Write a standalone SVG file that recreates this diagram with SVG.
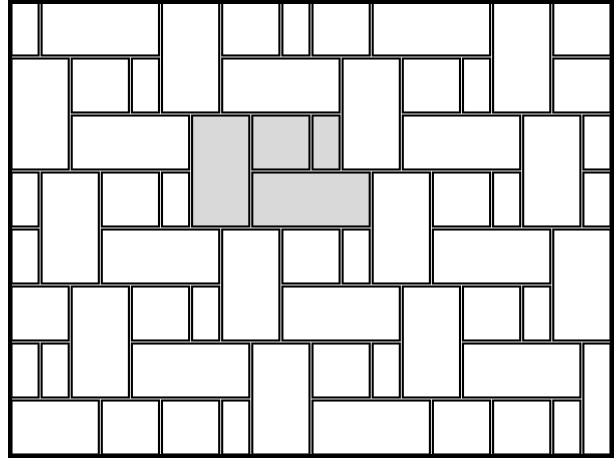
<svg xmlns="http://www.w3.org/2000/svg" width="614" height="458" viewBox="0 0 614 458">
<style>
.t{fill:#fff;stroke:#000;stroke-width:2.1}
.s{fill:#d9d9d9}
</style>
<rect x="0" y="0" width="614" height="458" fill="#fff"/>
<g id="tiles">
<!-- row 0 -->
<rect id="r0a" class="t" x="11.5" y="1.5" width="27.1" height="54"/>
<rect id="r0b" class="t" x="41.6" y="1.5" width="117.4" height="54"/>
<rect id="r0c" class="t" x="162" y="1.5" width="57.2" height="111"/>
<rect id="r0d" class="t" x="222.2" y="1.5" width="57.2" height="54"/>
<rect id="r0e" class="t" x="282.4" y="1.5" width="27.1" height="54"/>
<rect id="r0f" class="t" x="312.5" y="1.5" width="57.2" height="54"/>
<rect id="r0g" class="t" x="372.7" y="1.5" width="117.4" height="54"/>
<rect id="r0h" class="t" x="493.1" y="1.5" width="57.2" height="111"/>
<rect id="r0i" class="t" x="553.3" y="1.5" width="57.2" height="54"/>
<!-- row 1 -->
<rect id="r1a" class="t" x="11.5" y="58.5" width="57.2" height="111"/>
<rect id="r1b" class="t" x="71.7" y="58.5" width="57.2" height="54"/>
<rect id="r1c" class="t" x="131.9" y="58.5" width="27.1" height="54"/>
<rect id="r1d" class="t" x="222.2" y="58.5" width="117.4" height="54"/>
<rect id="r1e" class="t" x="342.6" y="58.5" width="57.2" height="111"/>
<rect id="r1f" class="t" x="402.8" y="58.5" width="57.2" height="54"/>
<rect id="r1g" class="t" x="463" y="58.5" width="27.1" height="54"/>
<rect id="r1h" class="t" x="553.3" y="58.5" width="57.2" height="54"/>
<!-- row 2 -->
<rect id="r2a" class="t" x="71.7" y="115.5" width="117.4" height="54"/>
<rect id="r2b" class="t s" x="192.1" y="115.5" width="57.2" height="111"/>
<rect id="r2c" class="t s" x="252.3" y="115.5" width="57.2" height="54"/>
<rect id="r2d" class="t s" x="312.5" y="115.5" width="27.1" height="54"/>
<rect id="r2e" class="t" x="402.8" y="115.5" width="117.4" height="54"/>
<rect id="r2f" class="t" x="523.2" y="115.5" width="57.2" height="111"/>
<rect id="r2g" class="t" x="583.4" y="115.5" width="27.1" height="54"/>
<!-- row 3 -->
<rect id="r3a" class="t" x="11.5" y="172.5" width="27.1" height="54"/>
<rect id="r3b" class="t" x="41.6" y="172.5" width="57.2" height="111"/>
<rect id="r3c" class="t" x="101.8" y="172.5" width="57.2" height="54"/>
<rect id="r3d" class="t" x="162" y="172.5" width="27.1" height="54"/>
<rect id="r3e" class="t s" x="252.3" y="172.5" width="117.4" height="54"/>
<rect id="r3f" class="t" x="372.7" y="172.5" width="57.2" height="111"/>
<rect id="r3g" class="t" x="432.9" y="172.5" width="57.2" height="54"/>
<rect id="r3h" class="t" x="493.1" y="172.5" width="27.1" height="54"/>
<rect id="r3i" class="t" x="583.4" y="172.5" width="27.1" height="54"/>
<!-- row 4 -->
<rect id="r4a" class="t" x="11.5" y="229.5" width="27.1" height="54"/>
<rect id="r4b" class="t" x="101.8" y="229.5" width="117.4" height="54"/>
<rect id="r4c" class="t" x="222.2" y="229.5" width="57.2" height="111"/>
<rect id="r4d" class="t" x="282.4" y="229.5" width="57.2" height="54"/>
<rect id="r4e" class="t" x="342.6" y="229.5" width="27.1" height="54"/>
<rect id="r4f" class="t" x="432.9" y="229.5" width="117.4" height="54"/>
<rect id="r4g" class="t" x="553.3" y="229.5" width="57.2" height="111"/>
<!-- row 5 -->
<rect id="r5a" class="t" x="11.5" y="286.5" width="57.2" height="54"/>
<rect id="r5b" class="t" x="71.7" y="286.5" width="57.2" height="111"/>
<rect id="r5c" class="t" x="131.9" y="286.5" width="57.2" height="54"/>
<rect id="r5d" class="t" x="192.1" y="286.5" width="27.1" height="54"/>
<rect id="r5e" class="t" x="282.4" y="286.5" width="117.4" height="54"/>
<rect id="r5f" class="t" x="402.8" y="286.5" width="57.2" height="111"/>
<rect id="r5g" class="t" x="463" y="286.5" width="57.2" height="54"/>
<rect id="r5h" class="t" x="523.2" y="286.5" width="27.1" height="54"/>
<!-- row 6 -->
<rect id="r6a" class="t" x="11.5" y="343.5" width="27.1" height="54"/>
<rect id="r6b" class="t" x="41.6" y="343.5" width="27.1" height="54"/>
<rect id="r6c" class="t" x="131.9" y="343.5" width="117.4" height="54"/>
<rect id="r6d" class="t" x="252.3" y="343.5" width="57.2" height="111"/>
<rect id="r6e" class="t" x="312.5" y="343.5" width="57.2" height="54"/>
<rect id="r6f" class="t" x="372.7" y="343.5" width="27.1" height="54"/>
<rect id="r6g" class="t" x="463" y="343.5" width="117.4" height="54"/>
<rect id="r6h" class="t" x="583.4" y="343.5" width="27.1" height="111"/>
<!-- row 7 -->
<rect id="r7a" class="t" x="11.5" y="400.5" width="87.3" height="54"/>
<rect id="r7b" class="t" x="101.8" y="400.5" width="57.2" height="54"/>
<rect id="r7c" class="t" x="162" y="400.5" width="57.2" height="54"/>
<rect id="r7d" class="t" x="222.2" y="400.5" width="27.1" height="54"/>
<rect id="r7e" class="t" x="312.5" y="400.5" width="117.4" height="54"/>
<rect id="r7f" class="t" x="432.9" y="400.5" width="57.2" height="54"/>
<rect id="r7g" class="t" x="493.1" y="400.5" width="57.2" height="54"/>
<rect id="r7h" class="t" x="553.3" y="400.5" width="27.1" height="54"/>
</g>
<g id="frame">
<rect x="10" y="2" width="602" height="454" fill="none" stroke="#000" stroke-width="4"/>
</g>
</svg>
